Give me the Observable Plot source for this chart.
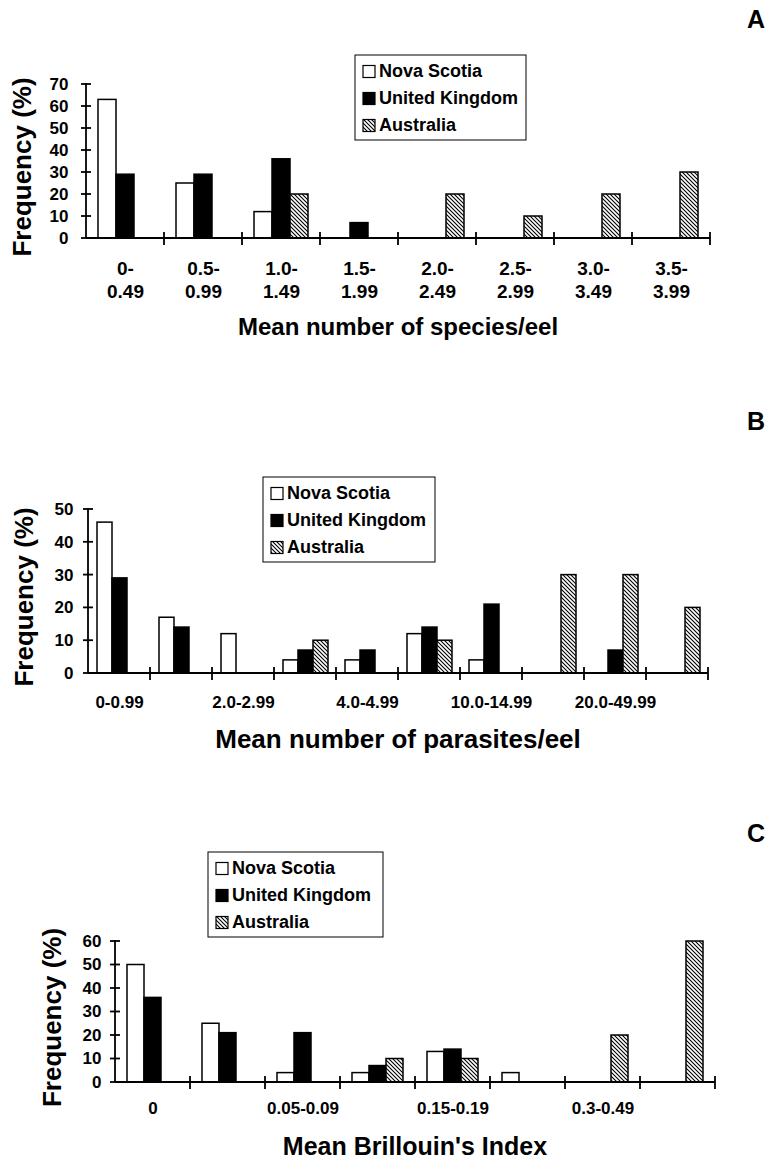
<!DOCTYPE html>
<html>
<head>
<meta charset="utf-8">
<script src="https://cdn.jsdelivr.net/npm/d3@7"></script>
<script src="https://cdn.jsdelivr.net/npm/@observablehq/plot@0.6"></script>
<style>
  html, body { margin: 0; padding: 0; background: #fff; }
  #chart { position: relative; width: 767px; height: 1161px; background: #fff; }
  #chart > svg { position: absolute; left: 0; }
</style>
</head>
<body>
<div id="chart"></div>
<script>
// ---------- data ----------
const seriesNames = ["Nova Scotia", "United Kingdom", "Australia"];

// Panel A: mean number of species per eel
const speciesCats = ["0-0.49", "0.5-0.99", "1.0-1.49", "1.5-1.99", "2.0-2.49", "2.5-2.99", "3.0-3.49", "3.5-3.99"];
const speciesTickLabels = ["0-\n0.49", "0.5-\n0.99", "1.0-\n1.49", "1.5-\n1.99", "2.0-\n2.49", "2.5-\n2.99", "3.0-\n3.49", "3.5-\n3.99"];
const speciesNovaScotia = [63, 25, 12, 0, 0, 0, 0, 0];
const speciesUK = [29, 29, 36, 7, 0, 0, 0, 0];
const speciesAustralia = [0, 0, 20, 0, 20, 10, 20, 30];
const speciesYTicks = [0, 10, 20, 30, 40, 50, 60, 70];

// Panel B: mean number of parasites per eel
const parasiteCats = ["0-0.99", "1.0-1.99", "2.0-2.99", "3.0-3.99", "4.0-4.99", "5.0-9.99", "10.0-14.99", "15.0-19.99", "20.0-49.99", "50+"];
const parasiteTickLabels = ["0-0.99", "", "2.0-2.99", "", "4.0-4.99", "", "10.0-14.99", "", "20.0-49.99", ""];
const parasiteNovaScotia = [46, 17, 12, 4, 4, 12, 4, 0, 0, 0];
const parasiteUK = [29, 14, 0, 7, 7, 14, 21, 0, 7, 0];
const parasiteAustralia = [0, 0, 0, 10, 0, 10, 0, 30, 30, 20];
const parasiteYTicks = [0, 10, 20, 30, 40, 50];

// Panel C: mean Brillouin's index
const brillouinCats = ["0", "0.01-0.04", "0.05-0.09", "0.10-0.14", "0.15-0.19", "0.2-0.29", "0.3-0.49", "0.5+"];
const brillouinTickLabels = ["0", "", "0.05-0.09", "", "0.15-0.19", "", "0.3-0.49", ""];
const brillouinNovaScotia = [50, 25, 4, 4, 13, 4, 0, 0];
const brillouinUK = [36, 21, 21, 7, 14, 0, 0, 0];
const brillouinAustralia = [0, 0, 0, 10, 10, 0, 20, 60];
const brillouinYTicks = [0, 10, 20, 30, 40, 50, 60];

// ---------- helpers ----------
const FONT = "'Liberation Sans', Arial, Helvetica, sans-serif";

function buildRows(cats, arrays) {
  const rows = [];
  cats.forEach((c, i) => {
    arrays.forEach((arr, k) => {
      if (arr[i] > 0) rows.push({cat: c, series: seriesNames[k], value: arr[i]});
    });
  });
  return rows;
}

function addPattern(svg, id) {
  const defs = d3.select(svg).insert("defs", ":first-child");
  const p = defs.append("pattern").attr("id", id).attr("patternUnits", "userSpaceOnUse")
    .attr("width", 4).attr("height", 4);
  p.append("rect").attr("width", 4).attr("height", 4).attr("fill", "white");
  p.append("path").attr("d", "M-1,-1L5,5M3,-1L5,1M-1,3L1,5")
    .attr("stroke", "black").attr("stroke-width", 1.1);
}

function panel(cfg) {
  const colors = ["white", "black", `url(#${cfg.patId})`];
  const rows = buildRows(cfg.cats, cfg.values);
  const svg = Plot.plot({
    width: 767,
    height: cfg.height,
    marginTop: cfg.mt, marginBottom: cfg.mb, marginLeft: cfg.ml, marginRight: cfg.mr,
    style: {fontFamily: FONT, fontWeight: "bold", fontSize: "16px", color: "black", background: "white", overflow: "visible"},
    fx: {domain: cfg.cats, padding: 0},
    x: {domain: seriesNames, paddingInner: 0, paddingOuter: cfg.xPad, axis: null},
    y: {domain: [0, cfg.yTicks[cfg.yTicks.length - 1]]},
    color: {type: "ordinal", domain: seriesNames, range: colors},
    marks: [
      Plot.barY(rows, {fx: "cat", x: "series", y: "value", fill: "series", stroke: "black", strokeWidth: 1.5}),
      Plot.axisY({ticks: cfg.yTicks, tickSize: 0, tickPadding: cfg.yPad, fontSize: cfg.yFont, label: null}),
      Plot.axisFx({anchor: "bottom", tickSize: 0, tickPadding: cfg.fxPad, fontSize: cfg.fxFont, lineHeight: cfg.lineHeight || 1,
        label: null, tickFormat: d => cfg.tickLabels[cfg.cats.indexOf(d)]})
    ]
  });
  svg.style.top = cfg.top + "px";
  addPattern(svg, cfg.patId);

  const s = d3.select(svg);
  const fx = svg.scale("fx"), y = svg.scale("y");
  const xl = fx.apply(cfg.cats[0]);
  const xr = fx.apply(cfg.cats[cfg.cats.length - 1]) + fx.bandwidth;
  const y0 = y.apply(0), yT = y.apply(cfg.yTicks[cfg.yTicks.length - 1]);
  const g = s.append("g").attr("stroke", "black").attr("stroke-width", 1.8).attr("fill", "none");
  g.append("line").attr("x1", xl).attr("x2", xl).attr("y1", yT - 1).attr("y2", y0);
  g.append("line").attr("x1", xl).attr("x2", xr).attr("y1", y0).attr("y2", y0);
  cfg.yTicks.forEach(v => g.append("line").attr("x1", xl - 5).attr("x2", xl + 5).attr("y1", y.apply(v)).attr("y2", y.apply(v)));
  cfg.cats.forEach((c, i) => {
    if (i === 0) return;
    const xx = fx.apply(c);
    g.append("line").attr("x1", xx).attr("x2", xx).attr("y1", y0 - 6).attr("y2", y0 + 7);
  });
  g.append("line").attr("x1", xr).attr("x2", xr).attr("y1", y0 - 6).attr("y2", y0 + 7);

  // legend
  const L = cfg.legend;
  const lg = s.append("g").attr("font-size", 18).attr("text-anchor", "start");
  lg.append("rect").attr("x", L.x).attr("y", L.y).attr("width", L.w).attr("height", 85)
    .attr("fill", "white").attr("stroke", "black").attr("stroke-width", 1);
  seriesNames.forEach((name, i) => {
    const by = L.y + 22 + 27 * i;
    lg.append("rect").attr("x", L.x + 8).attr("y", by - 11.5).attr("width", 12).attr("height", 12)
      .attr("fill", colors[i]).attr("stroke", "black").attr("stroke-width", 1.2);
    lg.append("text").attr("x", L.x + 24).attr("y", by).attr("text-anchor", "start").text(name);
  });

  // panel letter
  s.append("text").attr("x", 756).attr("y", cfg.letterY).attr("text-anchor", "middle")
    .attr("font-size", 25).text(cfg.letter);
  // x title
  s.append("text").attr("x", (xl + xr) / 2).attr("y", cfg.xTitleY).attr("text-anchor", "middle")
    .attr("font-size", cfg.xTitleFont).text(cfg.xTitle);
  // y title
  s.append("text").attr("transform", `translate(${cfg.yTitleX},${(yT + y0) / 2 + 6}) rotate(-90)`)
    .attr("text-anchor", "middle").attr("font-size", 26).text("Frequency (%)");

  document.getElementById("chart").appendChild(svg);
}

panel({
  top: 0, height: 345, mt: 84, mb: 107, ml: 86, mr: 57,
  cats: speciesCats, tickLabels: speciesTickLabels,
  values: [speciesNovaScotia, speciesUK, speciesAustralia],
  yTicks: speciesYTicks, xPad: 0.65, patId: "hatchA",
  yPad: 18, yFont: 17, fxPad: 19, fxFont: 19, lineHeight: 1.26,
  legend: {x: 355, y: 55, w: 171},
  letter: "A", letterY: 28,
  xTitle: "Mean number of species/eel", xTitleY: 335, xTitleFont: 24,
  yTitleX: 31
});

panel({
  top: 345, height: 415, mt: 164, mb: 87, ml: 85, mr: 57,
  cats: parasiteCats, tickLabels: parasiteTickLabels,
  values: [parasiteNovaScotia, parasiteUK, parasiteAustralia],
  yTicks: parasiteYTicks, xPad: 0.5, patId: "hatchB",
  yPad: 15, yFont: 17, fxPad: 22, fxFont: 17,
  legend: {x: 263, y: 132, w: 172},
  letter: "B", letterY: 85,
  xTitle: "Mean number of parasites/eel", xTitleY: 403, xTitleFont: 26,
  yTitleX: 33
});

panel({
  top: 760, height: 401, mt: 181, mb: 79, ml: 114, mr: 52,
  cats: brillouinCats, tickLabels: brillouinTickLabels,
  values: [brillouinNovaScotia, brillouinUK, brillouinAustralia],
  yTicks: brillouinYTicks, xPad: 0.65, patId: "hatchC",
  yPad: 14, yFont: 17, fxPad: 19, fxFont: 17,
  legend: {x: 208, y: 92, w: 175},
  letter: "C", letterY: 82,
  xTitle: "Mean Brillouin's Index", xTitleY: 395, xTitleFont: 25,
  yTitleX: 61
});
</script>
</body>
</html>
